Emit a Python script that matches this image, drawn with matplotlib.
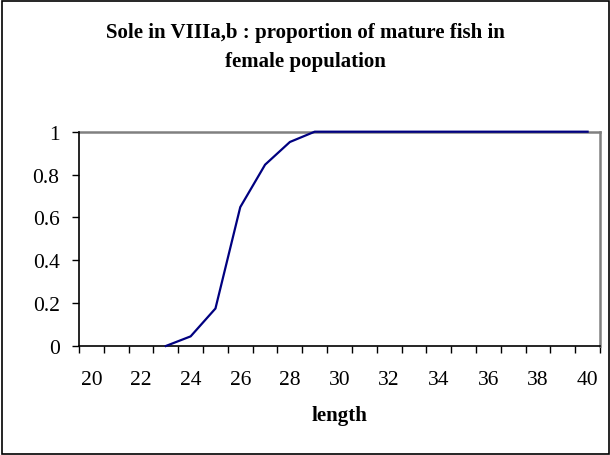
import matplotlib
matplotlib.use("Agg")
import matplotlib.pyplot as plt
from matplotlib.patches import Rectangle

# length categories shown on the axis
lengths = list(range(20, 41))
obs_len = [23, 24, 25, 26, 27, 28, 29, 30, 31, 32, 33, 34, 35, 36, 37, 38, 39, 40]
mature = [0.0, 0.045, 0.175, 0.648, 0.846, 0.952, 1, 1, 1, 1, 1, 1, 1, 1, 1, 1, 1, 1]
yticks = [0, 0.2, 0.4, 0.6, 0.8, 1]

plt.rcParams['font.family'] = 'Liberation Serif'

fig = plt.figure(figsize=(6.1, 4.56), dpi=100)
ax = fig.add_axes([79/610, 1-347/456, 521/610, 214.3/456])

ax.plot(obs_len, mature, color='#000080', lw=1.6, clip_on=False, zorder=3)

ax.set_xlim(lengths[0]-0.5, lengths[-1]+0.5)
ax.set_ylim(0, 1)

ax.set_xticks(lengths[::2])
ax.set_xticklabels([str(v) for v in lengths[::2]], fontsize=15.5)
ax.set_xticks([v-0.5 for v in lengths] + [lengths[-1]+0.5], minor=True)
ax.tick_params(axis='x', which='major', length=0, pad=17)
ax.tick_params(axis='x', which='minor', length=5, width=1, direction='out', color='black')

ax.set_yticks(yticks)
ax.set_yticklabels(['0', '0.2', '0.4', '0.6', '0.8', '1'], fontsize=15.5)
ax.tick_params(axis='y', length=5, width=1, direction='out', pad=9)

for s in ['left', 'bottom']:
    ax.spines[s].set_color('black')
    ax.spines[s].set_linewidth(1.2)
for s in ['top', 'right']:
    ax.spines[s].set_color('#808080')
    ax.spines[s].set_linewidth(1.8)
ax.spines['left'].set_zorder(4)

fig.text(339.5/610, 1-416/456, 'length', ha='center', va='center',
         fontsize=15, fontweight='bold')

fig.text(0.5, 1-33/456, 'Sole in VIIIa,b : proportion of mature fish in',
         ha='center', va='center', fontsize=15, fontweight='bold')
fig.text(0.5, 1-62/456, 'female population',
         ha='center', va='center', fontsize=15, fontweight='bold')

fig.patches.append(Rectangle((1.5/610, 1.5/456), 607/610, 453/456, transform=fig.transFigure,
                             fill=False, edgecolor='black', lw=1.2))

fig.savefig('out.png', dpi=100)
